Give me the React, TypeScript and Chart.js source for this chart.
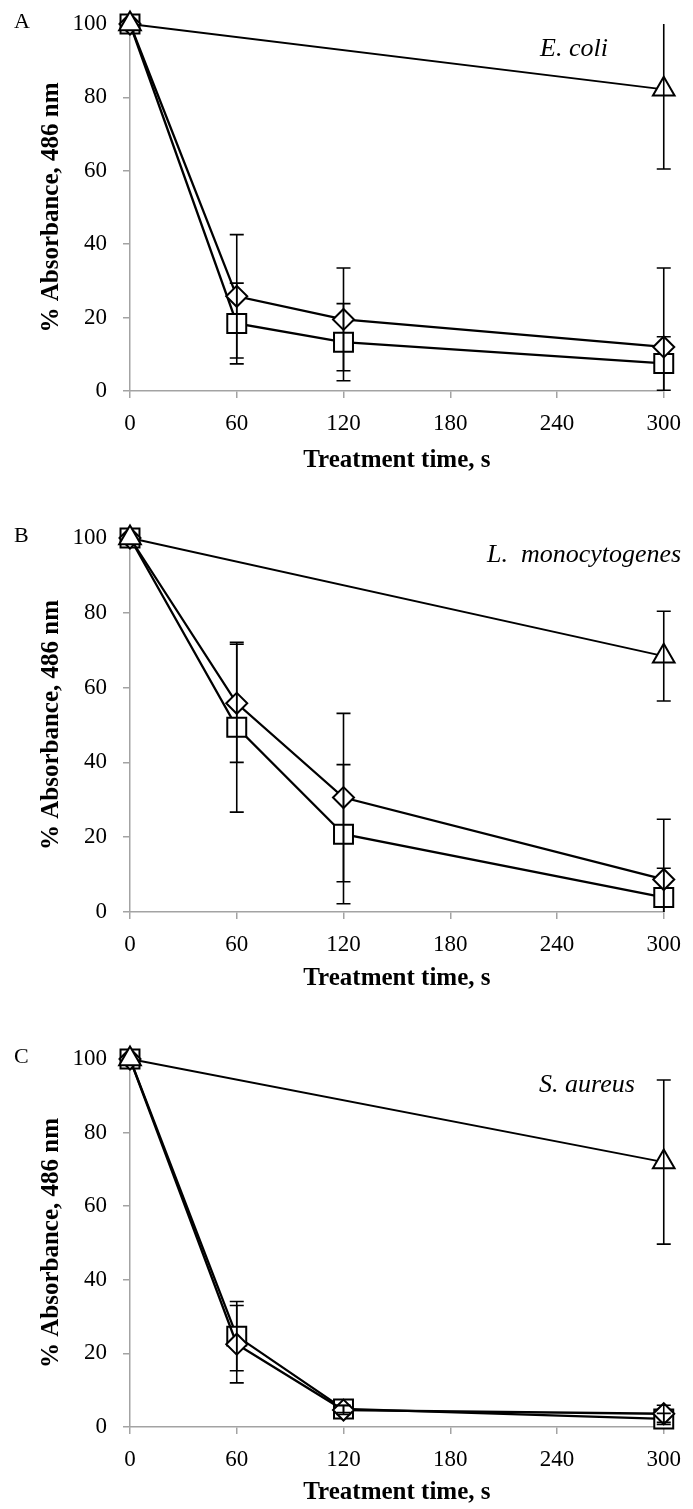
import React, { useEffect, useRef } from 'react';
import { Chart, registerables } from 'chart.js';

Chart.register(...registerables);

// ---------------- data ----------------
const timeSec = [0, 60, 120, 300];
const xTickValues = [0, 60, 120, 180, 240, 300];
const yTickValues = [0, 20, 40, 60, 80, 100];
const xAxisTitle = 'Treatment time, s';
const yAxisTitle = '% Absorbance, 486 nm';

// Panel A – E. coli
const ecoliTriangle = [100, null, null, 82.2];
const ecoliTriangleErr = [0, null, null, 21.7];
const ecoliDiamond = [100, 25.8, 19.5, 12.0];
const ecoliDiamondErr = [0, 16.8, 14.0, 21.5];
const ecoliSquare = [100, 18.4, 13.3, 7.5];
const ecoliSquareErr = [0, 11.0, 10.5, 7.3];

// Panel B – L. monocytogenes
const listeriaTriangle = [100, null, null, 68.4];
const listeriaTriangleErr = [0, null, null, 12.0];
const listeriaDiamond = [100, 55.8, 30.6, 8.7];
const listeriaDiamondErr = [0, 15.8, 22.5, 16.1];
const listeriaSquare = [100, 49.4, 20.8, 3.9];
const listeriaSquareErr = [0, 22.7, 18.6, 7.8];

// Panel C – S. aureus
const aureusTriangle = [100, null, null, 72.0];
const aureusTriangleErr = [0, null, null, 22.3];
const aureusDiamond = [100, 22.5, 4.6, 3.6];
const aureusDiamondErr = [0, 10.5, 1.2, 2.3];
const aureusSquare = [100, 24.7, 4.9, 2.2];
const aureusSquareErr = [0, 9.4, 1.0, 1.5];

// ---------------- layout ----------------
const PAGE_W = 693;
const PLOT_LEFT = 130;
const PLOT_RIGHT = 672;

type Panel = {
  letter: string;
  species: string;
  triangle: (number | null)[];
  triangleErr: (number | null)[];
  diamond: (number | null)[];
  diamondErr: (number | null)[];
  square: (number | null)[];
  squareErr: (number | null)[];
  plotTop: number;
  plotBottom: number;
  titleBaseline: number;
  speciesX: number;
  speciesBaseline: number;
};

const panels: Panel[] = [
  {
    letter: 'A', species: 'E. coli',
    triangle: ecoliTriangle, triangleErr: ecoliTriangleErr,
    diamond: ecoliDiamond, diamondErr: ecoliDiamondErr,
    square: ecoliSquare, squareErr: ecoliSquareErr,
    plotTop: 23.5, plotBottom: 390.8, titleBaseline: 468.3,
    speciesX: 540, speciesBaseline: 55,
  },
  {
    letter: 'B', species: 'L.  monocytogenes',
    triangle: listeriaTriangle, triangleErr: listeriaTriangleErr,
    diamond: listeriaDiamond, diamondErr: listeriaDiamondErr,
    square: listeriaSquare, squareErr: listeriaSquareErr,
    plotTop: 537.8, plotBottom: 912.3, titleBaseline: 987.5,
    speciesX: 487, speciesBaseline: 561.7,
  },
  {
    letter: 'C', species: 'S. aureus',
    triangle: aureusTriangle, triangleErr: aureusTriangleErr,
    diamond: aureusDiamond, diamondErr: aureusDiamondErr,
    square: aureusSquare, squareErr: aureusSquareErr,
    plotTop: 1059, plotBottom: 1427.3, titleBaseline: 1501.7,
    speciesX: 539, speciesBaseline: 1091.7,
  },
];

const AXIS_GRAY = '#a3a3a3';
const SERIF = '"Liberation Serif", "Times New Roman", serif';

function toPoints(vals: (number | null)[], errs: (number | null)[]) {
  const pts: { x: number; y: number; err: number }[] = [];
  timeSec.forEach((t, i) => {
    const v = vals[i];
    if (v !== null && v !== undefined) pts.push({ x: t, y: v, err: errs[i] ?? 0 });
  });
  return pts;
}

const errorBarPlugin = {
  id: 'errorBars',
  afterDatasetsDraw(chart: any) {
    const { ctx, chartArea, scales } = chart;
    const xs = scales.x;
    const ys = scales.y;
    ctx.save();
    ctx.beginPath();
    ctx.rect(chartArea.left - 30, chartArea.top, chartArea.right - chartArea.left + 60, chartArea.bottom - chartArea.top);
    ctx.clip();
    ctx.strokeStyle = '#000';
    ctx.lineWidth = 1.6;
    chart.data.datasets.forEach((ds: any) => {
      ds.data.forEach((p: any) => {
        if (!p.err) return;
        const px = xs.getPixelForValue(p.x);
        const top = ys.getPixelForValue(p.y + p.err);
        const bot = ys.getPixelForValue(p.y - p.err);
        const cap = 7;
        ctx.beginPath();
        ctx.moveTo(px, top);
        ctx.lineTo(px, bot);
        ctx.moveTo(px - cap, top);
        ctx.lineTo(px + cap, top);
        ctx.moveTo(px - cap, bot);
        ctx.lineTo(px + cap, bot);
        ctx.stroke();
      });
    });
    ctx.restore();
  },
};

function PanelChart({ panel }: { panel: Panel }) {
  const ref = useRef<HTMLCanvasElement | null>(null);
  const canvasTop = panel.plotTop - 40;
  const canvasH = panel.plotBottom + 95 - canvasTop;

  useEffect(() => {
    if (!ref.current) return;
    const plotBottomLocal = panel.plotBottom - canvasTop;
    const xScaleHeight = canvasH - plotBottomLocal;
    const titleMiddle = panel.titleBaseline - canvasTop - 8.4;
    const xTitlePadBottom = canvasH - 15 - titleMiddle;

    const labelsPlugin = {
      id: 'panelLabels',
      afterDraw(chart: any) {
        const ctx = chart.ctx;
        ctx.save();
        ctx.fillStyle = '#000';
        ctx.textBaseline = 'alphabetic';
        ctx.textAlign = 'left';
        ctx.font = `22px ${SERIF}`;
        ctx.fillText(panel.letter, 14, panel.plotTop + 4 - canvasTop);
        ctx.font = `italic 26px ${SERIF}`;
        ctx.fillText(panel.species, panel.speciesX, panel.speciesBaseline - canvasTop);
        ctx.restore();
      },
    };

    const common = {
      borderColor: '#000',
      pointBackgroundColor: '#fff',
      pointBorderColor: '#000',
      pointBorderWidth: 2,
      fill: false,
      tension: 0,
      clip: false as any,
      spanGaps: true,
    };

    const chart = new Chart(ref.current, {
      type: 'line',
      data: {
        datasets: [
          {
            ...common,
            label: 'triangle',
            data: toPoints(panel.triangle, panel.triangleErr),
            borderWidth: 1.8,
            pointStyle: 'triangle',
            pointRadius: 12.5,
          },
          {
            ...common,
            label: 'diamond',
            data: toPoints(panel.diamond, panel.diamondErr),
            borderWidth: 2.3,
            pointStyle: 'rectRot',
            pointRadius: 10.5,
          },
          {
            ...common,
            label: 'square',
            data: toPoints(panel.square, panel.squareErr),
            borderWidth: 2.3,
            pointStyle: 'rect',
            pointRadius: 13.4,
          },
        ] as any,
      },
      options: {
        responsive: false,
        animation: false,
        events: [],
        layout: {
          padding: { left: 0, right: PAGE_W - PLOT_RIGHT, top: panel.plotTop - canvasTop, bottom: 0 },
        },
        plugins: {
          legend: { display: false },
          tooltip: { enabled: false },
        },
        scales: {
          x: {
            type: 'linear',
            min: 0,
            max: 300,
            afterBuildTicks: (s: any) => {
              s.ticks = xTickValues.map((v) => ({ value: v }));
            },
            afterFit: (s: any) => {
              s.height = xScaleHeight;
            },
            ticks: {
              color: '#000',
              font: { family: SERIF, size: 23 },
              padding: 12,
              maxRotation: 0,
              autoSkip: false,
            },
            grid: {
              display: true,
              drawOnChartArea: false,
              drawTicks: true,
              tickLength: 7,
              color: AXIS_GRAY,
              lineWidth: 1.5,
            },
            border: { display: true, color: AXIS_GRAY, width: 1.5 },
            title: {
              display: true,
              text: xAxisTitle,
              color: '#000',
              font: { family: SERIF, size: 25, weight: 'bold' },
              padding: { top: 0, bottom: xTitlePadBottom },
            },
          },
          y: {
            type: 'linear',
            min: 0,
            max: 100,
            afterBuildTicks: (s: any) => {
              s.ticks = yTickValues.map((v) => ({ value: v }));
            },
            afterFit: (s: any) => {
              s.width = PLOT_LEFT;
            },
            ticks: {
              color: '#000',
              font: { family: SERIF, size: 23 },
              padding: 16,
            },
            grid: {
              display: true,
              drawOnChartArea: false,
              drawTicks: true,
              tickLength: 7,
              color: AXIS_GRAY,
              lineWidth: 1.5,
            },
            border: { display: true, color: AXIS_GRAY, width: 1.5 },
            title: {
              display: true,
              text: yAxisTitle,
              color: '#000',
              font: { family: SERIF, size: 25, weight: 'bold' },
              padding: { top: 36.5, bottom: 0 },
            },
          },
        },
      } as any,
      plugins: [errorBarPlugin, labelsPlugin],
    });
    return () => chart.destroy();
  }, []);

  return (
    <canvas
      ref={ref}
      width={PAGE_W}
      height={canvasH}
      style={{ position: 'absolute', left: 0, top: canvasTop, width: PAGE_W, height: canvasH, display: 'block' }}
    />
  );
}

export default function App() {
  return (
    <div style={{ position: 'fixed', left: 0, top: 0, width: PAGE_W, height: 1509, background: '#fff', overflow: 'hidden' }}>
      {panels.map((p) => (
        <PanelChart key={p.letter} panel={p} />
      ))}
    </div>
  );
}
